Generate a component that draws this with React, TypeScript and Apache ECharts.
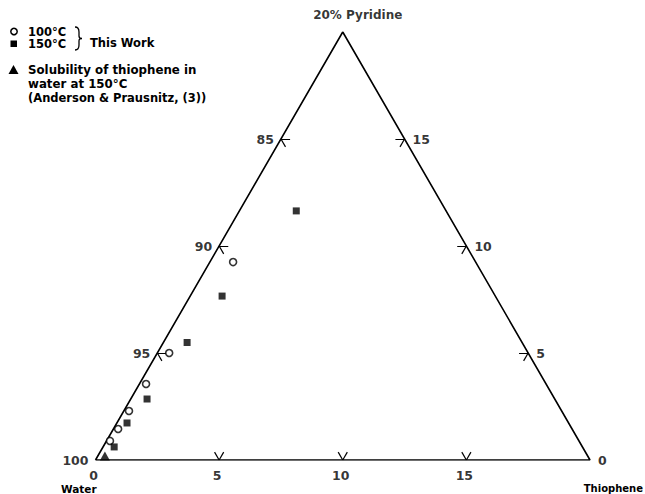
import React, { useEffect, useRef } from "react";
import * as echarts from "echarts";

// Ternary data: [thiophene %, pyridine %] (water = 100 - both)
const run100C: number[][] = [
  [0.94, 9.25],
  [0.48, 5.0],
  [0.27, 3.55],
  [0.21, 2.29],
  [0.19, 1.45],
  [0.14, 0.89],
];
const run150C: number[][] = [
  [2.3, 11.64],
  [1.29, 7.66],
  [0.96, 5.49],
  [0.66, 2.85],
  [0.41, 1.73],
  [0.45, 0.61],
];
const solubility150C: number[][] = [[0.38, 0.0]];

const bottomTicks = [5, 10, 15]; // thiophene %
const bottomLabels = [0, 5, 10, 15];
const leftTicks = [95, 90, 85]; // water %
const leftLabels = [100, 95, 90, 85];
const rightTicks = [5, 10, 15]; // pyridine %

const SQ3 = Math.sqrt(3) / 2;
const toXY = (t: number, p: number) => [t + p / 2, p * SQ3];

const INK = "#000000";
const FONT = "DejaVu Sans";

export default function App() {
  const ref = useRef<HTMLDivElement>(null);
  useEffect(() => {
    if (!ref.current) return;
    echarts.graphic.registerShape(
      "brace",
      echarts.graphic.extendPath(
        "M0,0 Q4,0 4,5 L4,9 Q4,11.5 7,11.5 Q4,11.5 4,14 L4,18 Q4,23 0,23",
        {}
      )
    );
    const chart = echarts.init(ref.current, null, { renderer: "svg" });
    const L = 0.37; // tick length in data units
    const seg = (x: number, y: number, deg: number) => {
      const r = (deg * Math.PI) / 180;
      return { coords: [[x, y], [x + L * Math.cos(r), y + L * Math.sin(r)]] };
    };
    const tickSegs: any[] = [];
    bottomTicks.forEach((t) => {
      const [x, y] = toXY(t, 0);
      tickSegs.push(seg(x, y, 60), seg(x, y, 120));
    });
    leftTicks.forEach((w) => {
      const [x, y] = toXY(0, 100 - w);
      tickSegs.push(seg(x, y, 0), seg(x, y, -60));
    });
    rightTicks.forEach((p) => {
      const [x, y] = toXY(20 - p, p);
      tickSegs.push(seg(x, y, 180), seg(x, y, 240));
    });

    const lbl = { color: INK, fontFamily: FONT, fontSize: 12.5, fontWeight: "bold" as const };

    chart.setOption({
      animation: false,
      backgroundColor: "#ffffff",
      grid: { left: 95.5, right: 55, top: 32, bottom: 34 },
      xAxis: { type: "value", min: 0, max: 20, show: false },
      yAxis: { type: "value", min: 0, max: 20 * SQ3, show: false },
      series: [
        {
          type: "line",
          data: [toXY(0, 0), toXY(20, 0), toXY(0, 20), toXY(0, 0)],
          symbol: "none",
          lineStyle: { color: INK, width: 1.6 },
          silent: true,
          z: 1,
        },
        {
          type: "lines",
          coordinateSystem: "cartesian2d",
          data: tickSegs,
          lineStyle: { color: INK, width: 1.2, opacity: 1 },
          silent: true,
          z: 1,
        },
        {
          type: "scatter",
          data: bottomLabels.map((t) => ({ value: toXY(t, 0), name: String(t) })),
          symbolSize: 0,
          label: { show: true, position: "bottom", distance: 9, formatter: "{b}", ...lbl, offset: [-2, 0] },
          silent: true,
        },
        {
          type: "scatter",
          data: leftLabels.map((w) => ({ value: toXY(0, 100 - w), name: String(w) })),
          symbolSize: 0,
          label: { show: true, position: "left", distance: 7, formatter: "{b}", ...lbl },
          silent: true,
        },
        {
          type: "scatter",
          data: [
            ...rightTicks.map((p) => ({ value: toXY(20 - p, p), name: String(p) })),
            { value: toXY(20, 0), name: "0" },
          ],
          symbolSize: 0,
          label: { show: true, position: "right", distance: 8, formatter: "{b}", ...lbl },
          silent: true,
        },
        {
          type: "scatter",
          data: [{ value: toXY(0, 20), name: "20% Pyridine" }],
          symbolSize: 0,
          label: { show: true, position: "top", distance: 11, formatter: "{b}", ...lbl, fontSize: 12, offset: [15, 0] },
          silent: true,
        },
        {
          type: "scatter",
          name: "100°C",
          data: run100C.map(([t, p]) => toXY(t, p)),
          symbol: "circle",
          symbolSize: 7,
          itemStyle: { color: "#ffffff", borderColor: INK, borderWidth: 1.6 },
          z: 3,
        },
        {
          type: "scatter",
          name: "150°C",
          data: run150C.map(([t, p]) => toXY(t, p)),
          symbol: "rect",
          symbolSize: 7,
          itemStyle: { color: INK },
          z: 3,
        },
        {
          type: "scatter",
          name: "Solubility",
          data: solubility150C.map(([t, p]) => toXY(t, p)),
          symbol: "triangle",
          symbolSize: [10, 9],
          symbolOffset: [0, -4],
          itemStyle: { color: INK },
          z: 3,
        },
      ],
      graphic: [
        { type: "text", left: 61, top: 483.5, style: { text: "Water", fill: INK, font: `bold 10.5px ${FONT}` } },
        { type: "text", right: 2, top: 483.5, style: { text: "Thiophene", fill: INK, font: `bold 10px ${FONT}` } },
        { type: "circle", shape: { cx: 14, cy: 31.5, r: 3.2 }, style: { fill: "#fff", stroke: INK, lineWidth: 1.5 } },
        { type: "text", x: 28, y: 31.5, style: { text: "100°C", fill: INK, font: `bold 11.5px ${FONT}`, verticalAlign: "middle" } },
        { type: "rect", shape: { x: 10.5, y: 40.5, width: 6.5, height: 6.5 }, style: { fill: INK } },
        { type: "text", x: 28, y: 44, style: { text: "150°C", fill: INK, font: `bold 11.5px ${FONT}`, verticalAlign: "middle" } },
        { type: "brace", x: 75, y: 27, style: { fill: "none", stroke: INK, lineWidth: 1.3 } },
        { type: "text", x: 90, y: 43, style: { text: "This Work", fill: INK, font: `bold 11.5px ${FONT}`, verticalAlign: "middle" } },
        { type: "polygon", shape: { points: [[13.5, 65], [8.5, 74], [18.5, 74]] }, style: { fill: INK } },
        { type: "text", x: 28, y: 70, style: { text: "Solubility of thiophene in", fill: INK, font: `bold 11.8px ${FONT}`, verticalAlign: "middle" } },
        { type: "text", x: 28, y: 84, style: { text: "water at 150°C", fill: INK, font: `bold 11.8px ${FONT}`, verticalAlign: "middle" } },
        { type: "text", x: 28, y: 98, style: { text: "(Anderson & Prausnitz, (3))", fill: INK, font: `bold 11.5px ${FONT}`, verticalAlign: "middle" } },
      ],
    });
    return () => chart.dispose();
  }, []);
  return <div ref={ref} style={{ width: 645, height: 494, position: "absolute", left: 0, top: 0 }} />;
}
